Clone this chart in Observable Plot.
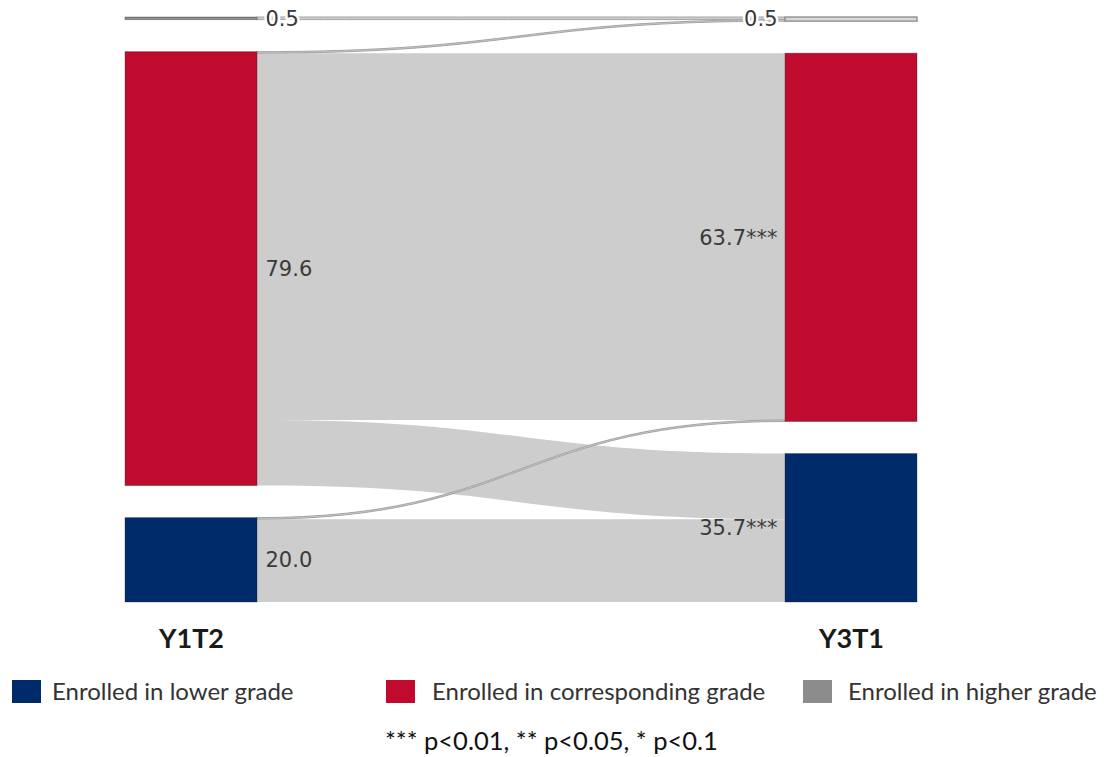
<!DOCTYPE html>
<html><head><meta charset="utf-8">
<script src="https://cdn.jsdelivr.net/npm/d3@7"></script>
<script src="https://cdn.jsdelivr.net/npm/@observablehq/plot@0.6"></script>
<style>
body{margin:0;background:#fff;}
#wrap{position:relative;width:1109px;height:757px;overflow:hidden;}
#chart{position:absolute;left:0;top:0;}
.sw{position:absolute;width:29px;height:23px;}
.lt{position:absolute;font-family:Lato,"Open Sans",sans-serif;font-size:24px;color:#333;line-height:24px;white-space:nowrap;}
#note{position:absolute;left:385px;top:727px;font-family:Lato,"Open Sans",sans-serif;font-size:25.5px;color:#111;line-height:26px;white-space:nowrap;}
</style></head><body>
<div id="wrap"><div id="chart"></div></div>
<script>
// ---- data ----
const columns = ["Y1T2", "Y3T1"];
const categories = ["higher", "corresponding", "lower"];
const categoryNames = ["Enrolled in higher grade", "Enrolled in corresponding grade", "Enrolled in lower grade"];
const categoryColors = ["#8c8c8c", "#c00a2e", "#002b6b"];
const flowSource = ["higher", "corresponding", "corresponding", "corresponding", "lower", "lower"];
const flowTarget = ["higher", "higher", "corresponding", "lower", "corresponding", "lower"];
const flowValue = [0.5, 0.3, 70.4, 12.6, 0.3, 15.9];
const leftLabels = ["0.5", "79.6", "20.0"];
const rightLabels = ["0.5", "63.7***", "35.7***"];
const legendOrder = ["lower", "corresponding", "higher"];
const footnote = "*** p<0.01, ** p<0.05, * p<0.1";

// ---- layout (in data units) ----
const gap = 6.15;
const half = 0.1;
const flows = flowValue.map((v, i) => ({id: i, source: flowSource[i], target: flowTarget[i], value: v}));
const nodes = [];
[0, 1].forEach(col => {
  let y = 0;
  categories.forEach((cat, k) => {
    const v = d3.sum(flows.filter(f => (col === 0 ? f.source : f.target) === cat), f => f.value);
    nodes.push({col, cat, value: v, y0: y, y1: y + v, label: (col === 0 ? leftLabels : rightLabels)[k]});
    y += v + gap;
  });
});
const total = d3.max(nodes, d => d.y1);
const srcOff = new Map(), tgtOff = new Map();
nodes.forEach(n => (n.col === 0 ? srcOff : tgtOff).set(n.cat, n.y0));
const ci = c => categories.indexOf(c);
// source offsets ordered by target, target offsets ordered by source
[...flows].sort((a, b) => ci(a.target) - ci(b.target)).forEach(f => {
  const s = srcOff.get(f.source); f.sy0 = s; f.sy1 = s + f.value; srcOff.set(f.source, s + f.value);
});
[...flows].sort((a, b) => ci(a.source) - ci(b.source)).forEach(f => {
  const t = tgtOff.get(f.target); f.ty0 = t; f.ty1 = t + f.value; tgtOff.set(f.target, t + f.value);
});
const linkPts = flows.flatMap(f => [
  {id: f.id, value: f.value, x: half, y1: f.sy0, y2: f.sy1},
  {id: f.id, value: f.value, x: 1 - half, y1: f.ty0, y2: f.ty1}
]);
const thin = linkPts.filter(d => d.value < 1);
const mainNodes = nodes.filter(d => !(d.col === 1 && d.cat === "higher"));
const outlineNodes = nodes.filter(d => d.col === 1 && d.cat === "higher");

const font = "'DejaVu Sans', Verdana, sans-serif";
const chart = Plot.plot({
  width: 1109,
  height: 665,
  marginLeft: 125,
  marginRight: 192,
  marginTop: 17,
  marginBottom: 63,
  style: {overflow: "visible", background: "#fff"},
  x: {domain: [-half, 1 + half], axis: null},
  y: {domain: [0, total], reverse: true, axis: null},
  color: {domain: categories, range: categoryColors},
  marks: [
    Plot.area(linkPts, {x1: "x", y1: "y1", y2: "y2", z: "id", curve: "bump-x", fill: "#cdcdcd"}),
    Plot.area(thin, {x1: "x", y1: "y1", y2: "y2", z: "id", curve: "bump-x", fill: "#cdcdcd", stroke: "#a5a5a5", strokeWidth: 1}),
    Plot.rect(mainNodes, {x1: d => d.col - half, x2: d => d.col + half, y1: "y0", y2: "y1", fill: "cat", stroke: "#222", strokeOpacity: 0.35, strokeWidth: 1}),
    Plot.rect(outlineNodes, {x1: d => d.col - half, x2: d => d.col + half, y1: "y0", y2: "y1", fill: "#d8d8d8", stroke: "cat", strokeWidth: 1.3}),
    Plot.text(nodes.filter(d => d.col === 0 && d.cat !== "higher"), {x: half, y: d => (d.y0 + d.y1) / 2, text: "label", dx: 8, textAnchor: "start", fontSize: 21, fill: "#3a3a3a", fontFamily: font}),
    Plot.text(nodes.filter(d => d.col === 1 && d.cat !== "higher"), {x: 1 - half, y: d => (d.y0 + d.y1) / 2, text: "label", dx: -8, textAnchor: "end", fontSize: 21, fill: "#3a3a3a", fontFamily: font}),
    Plot.text(nodes.filter(d => d.col === 0 && d.cat === "higher"), {x: half, y: d => (d.y0 + d.y1) / 2, text: "label", dx: 8, textAnchor: "start", fontSize: 21, fill: "#3a3a3a", stroke: "white", strokeWidth: 5, fontFamily: font}),
    Plot.text(nodes.filter(d => d.col === 1 && d.cat === "higher"), {x: 1 - half, y: d => (d.y0 + d.y1) / 2, text: "label", dx: -8, textAnchor: "end", fontSize: 21, fill: "#3a3a3a", stroke: "white", strokeWidth: 5, fontFamily: font}),
    Plot.text(columns, {x: (d, i) => i, y: total, text: d => d, dy: 37, fontSize: 27, fontWeight: "bold", fill: "#1a1a1a", fontFamily: "Lato, sans-serif"})
  ]
});
const wrap = document.getElementById("wrap");
document.getElementById("chart").appendChild(chart);

// ---- legend (HTML, below the SVG) ----
const swX = [12, 386, 803], txX = [52, 432, 848];
legendOrder.forEach((cat, i) => {
  const k = categories.indexOf(cat);
  const s = document.createElement("div");
  s.className = "sw"; s.style.left = swX[i] + "px"; s.style.top = "680px"; s.style.background = categoryColors[k];
  wrap.appendChild(s);
  const t = document.createElement("div");
  t.className = "lt"; t.style.left = txX[i] + "px"; t.style.top = "679px"; t.textContent = categoryNames[k];
  wrap.appendChild(t);
});
const n = document.createElement("div");
n.id = "note"; n.textContent = footnote;
wrap.appendChild(n);
</script>
</body></html>
